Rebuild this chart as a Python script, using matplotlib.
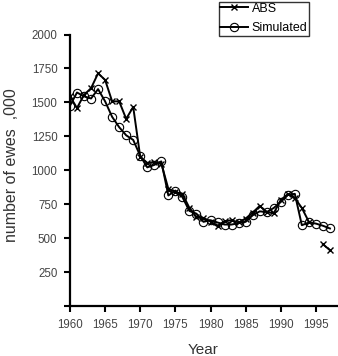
import numpy as np
import matplotlib
matplotlib.use("Agg")
import matplotlib.pyplot as plt

plt.rcParams['font.family'] = ['Liberation Sans', 'DejaVu Sans']

# data (thousands of ewes)
years = np.arange(1960, 1998)
abs_ewes = [1545, 1459, 1556, 1605, 1714, 1666, 1508, 1508, 1379, 1467,
            1100, 1055, 1060, 1050, 864, 840, 827, 723, 657, 650,
            623, 592, 625, 633, 616, 645, 689, 738, 693, 684,
            782, 825, 796, 723, 621, np.nan, 456, 412]
sim_ewes = [1476, 1573, 1545, 1529, 1598, 1508, 1394, 1318, 1258, 1224,
            1107, 1022, 1040, 1066, 815, 851, 803, 701, 681, 621,
            633, 616, 601, 601, 611, 621, 669, 698, 693, 723,
            767, 820, 827, 596, 616, 608, 592, 572]
xticks = [1960, 1965, 1970, 1975, 1980, 1985, 1990, 1995]
yticks = [0, 250, 500, 750, 1000, 1250, 1500, 1750, 2000]

fig = plt.figure(figsize=(3.38, 3.56), dpi=100)
ax = fig.add_axes([0.207, 0.14, 0.79, 0.763])

ax.plot(years, abs_ewes, color='black', lw=1.4, marker='x', ms=5,
        mew=1.0, label='ABS')
ax.plot(years, sim_ewes, color='black', lw=1.4, marker='o', ms=6,
        mfc='none', mew=0.8, label='Simulated')

ax.set_xlim(1960, 1998)
ax.set_ylim(0, 2000)
ax.set_xticks(xticks)
ax.set_yticks(yticks)
ax.set_yticklabels([''] + [str(t) for t in yticks[1:]])

for s in ['top', 'right']:
    ax.spines[s].set_visible(False)
for s in ['left', 'bottom']:
    ax.spines[s].set_linewidth(1.6)
ax.tick_params(direction='out', length=4, width=1.5, labelsize=8.3,
               labelcolor='#444444', pad=5)

ax.set_xlabel('Year', fontsize=11, color='#333333')
ax.set_ylabel('number of ewes  ,000', fontsize=11.5, color='#333333')
ax.xaxis.set_label_coords(0.5, -0.135)
ax.yaxis.set_label_coords(-0.19, 0.52)

leg = fig.legend(loc='lower right', bbox_to_anchor=(0.913, 0.9),
                 fontsize=9, frameon=True, fancybox=False,
                 handlelength=2.2, handletextpad=0.3, borderpad=0.1,
                 labelspacing=0.6, borderaxespad=0)
leg.get_frame().set_edgecolor('black')
leg.get_frame().set_linewidth(1.0)

fig.savefig('out.png', dpi=100)
